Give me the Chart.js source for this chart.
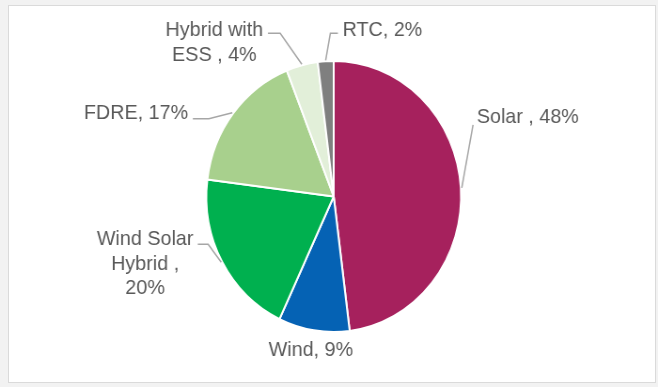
<!DOCTYPE html>
<html>
<head>
<meta charset="utf-8">
<script src="https://cdn.jsdelivr.net/npm/chart.js@4/dist/chart.umd.min.js"></script>
<style>
    html, body { margin: 0; padding: 0; background: #f2f2f2; width: 658px; height: 387px; overflow: hidden; }
    .frame { position: absolute; left: 8px; top: 5px; width: 646px; height: 376px; background: #fff; border: 1px solid #dadada; }
    #mixChart { position: absolute; left: 0; top: 0; transform: scaleX(0.94); transform-origin: 0 0; }
</style>
</head>
<body>
<div class="frame"></div>
<canvas id="mixChart" width="700" height="387"></canvas>
<script>
// capacity share by tender type, clockwise from 12 o'clock
const categories = ['Solar', 'Wind', 'Wind Solar Hybrid', 'FDRE', 'Hybrid with ESS', 'RTC'];
const shares = [48, 9, 20, 17, 4, 2];
const labelText = [
    ['Solar , {v}%'],
    ['Wind, {v}%'],
    ['Wind Solar', 'Hybrid ,', '{v}%'],
    ['FDRE, {v}%'],
    ['Hybrid with', 'ESS , {v}%'],
    ['RTC, {v}%']
];

const sliceColors = ['#A6215D', '#0562B4', '#00B04F', '#A8D08D', '#E2EFD9', '#7F7F7F'];

// label placement relative to the outer edge at each slice's mid angle
const labelPlacement = [
    { leader: [[12, -63]], text: [16, -71], align: 'left' },
    { leader: [], text: [-3, 19], align: 'center' },
    { leader: [[-14, -18], [-25, -18]], text: [-81, -23], align: 'center' },
    { leader: [[-25, 6], [-42, 6]], text: [-47, 0], align: 'right' },
    { leader: [[-23, -31], [-36, -31]], text: [-93, -34], align: 'center' },
    { leader: [[5, -27], [13, -27]], text: [18, -30], align: 'left' }
];

const outsideLabels = {
    id: 'outsideLabels',
    afterDatasetsDraw(chart) {
        const ctx = chart.ctx;
        const arcs = chart.getDatasetMeta(0).data;
        ctx.save();
        ctx.font = '21px "Liberation Sans", Arial, sans-serif';
        ctx.textBaseline = 'middle';
        arcs.forEach((arc, i) => {
            const p = arc.getProps(['x', 'y', 'startAngle', 'endAngle', 'outerRadius'], true);
            const mid = (p.startAngle + p.endAngle) / 2;
            const ex = p.x + Math.cos(mid) * (p.outerRadius + 1);
            const ey = p.y + Math.sin(mid) * (p.outerRadius + 1);
            const place = labelPlacement[i];

            if (place.leader.length) {
                ctx.strokeStyle = '#a6a6a6';
                ctx.lineWidth = 1.5;
                ctx.beginPath();
                ctx.moveTo(ex, ey);
                place.leader.forEach(([dx, dy]) => ctx.lineTo(ex + dx, ey + dy));
                ctx.stroke();
            }

            ctx.fillStyle = '#595959';
            ctx.textAlign = place.align;
            labelText[i].forEach((line, k) => {
                const txt = line.replace('{v}', shares[i]);
                ctx.fillText(txt, ex + place.text[0], ey + place.text[1] + k * 24.5);
            });
        });
        ctx.restore();
    }
};

new Chart(document.getElementById('mixChart'), {
    type: 'pie',
    data: {
        labels: categories,
        datasets: [{
            data: shares,
            backgroundColor: sliceColors,
            borderColor: '#ffffff',
            borderWidth: 2
        }]
    },
    options: {
        responsive: false,
        animation: false,
        layout: { padding: { top: 60, bottom: 54, left: 100, right: 90 } },
        plugins: {
            legend: { display: false },
            tooltip: { enabled: false }
        }
    },
    plugins: [outsideLabels]
});
</script>
</body>
</html>
